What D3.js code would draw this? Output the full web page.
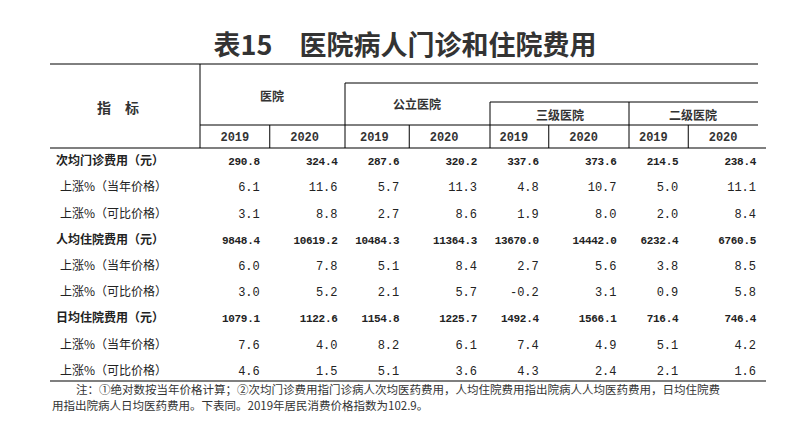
<!DOCTYPE html>
<html><head><meta charset="utf-8">
<script src="https://cdn.jsdelivr.net/npm/d3@7"></script>
<style>body{margin:0;background:#fff}</style>
</head><body>
<script>
// data
let rowLabels = ['次均门诊费用（元）','上涨%（当年价格）','上涨%（可比价格）',
  '人均住院费用（元）','上涨%（当年价格）','上涨%（可比价格）',
  '日均住院费用（元）','上涨%（当年价格）','上涨%（可比价格）'];
let years = ['2019','2020','2019','2020','2019','2020','2019','2020'];
let outpatient = ['290.8','324.4','287.6','320.2','337.6','373.6','214.5','238.4'];
let outCur = ['6.1','11.6','5.7','11.3','4.8','10.7','5.0','11.1'];
let outCmp = ['3.1','8.8','2.7','8.6','1.9','8.0','2.0','8.4'];
let inpatient = ['9848.4','10619.2','10484.3','11364.3','13670.0','14442.0','6232.4','6760.5'];
let inCur = ['6.0','7.8','5.1','8.4','2.7','5.6','3.8','8.5'];
let inCmp = ['3.0','5.2','2.1','5.7','-0.2','3.1','0.9','5.8'];
let daily = ['1079.1','1122.6','1154.8','1225.7','1492.4','1566.1','716.4','746.4'];
let dayCur = ['7.6','4.0','8.2','6.1','7.4','4.9','5.1','4.2'];
let dayCmp = ['4.6','1.5','5.1','3.6','4.3','2.4','2.1','1.6'];
let rows = [outpatient,outCur,outCmp,inpatient,inCur,inCmp,daily,dayCur,dayCmp];

let width = 802, height = 426;
let cjk = '"Noto Sans CJK SC", sans-serif', mono = '"Liberation Mono", monospace';
let svg = d3.select('body').append('svg').attr('width',width).attr('height',height);

let x = d3.scaleLinear().domain([0,8]).range([200,758]);
let y = d3.scaleBand().domain(d3.range(9)).range([148,384]);

svg.append('text').attr('x',405).attr('y',55).attr('text-anchor','middle')
  .style('font-family',cjk).style('font-weight','bold').style('font-size','27px').attr('fill','#333')
  .text('表15　医院病人门诊和住院费用');

let line = (x1,y1,x2,y2,w) => svg.append('line').attr('x1',x1).attr('y1',y1).attr('x2',x2).attr('y2',y2)
  .attr('stroke','#000').attr('stroke-width',w||1);
line(50,64,758,64); line(345,83,758,83); line(490,102,758,102); line(200,125,758,125);
line(50,148,766,148,1.2); line(50,381,766,381,1.2);
line(200,64,200,148); line(345,83,345,148); line(490,102,490,148); line(629,102,629,148);
[1,3,5,7].forEach(i => line(x(i),125,x(i),148));

let hdr = (t,cx,cy,sz) => svg.append('text').attr('x',cx).attr('y',cy).attr('text-anchor','middle')
  .style('font-family',cjk).style('font-weight','bold').style('font-size',(sz||12)+'px').attr('fill','#333').text(t);
hdr('指　标',118,113,14); hdr('医院',272,101); hdr('公立医院',417,109); hdr('三级医院',560,120); hdr('二级医院',693,120);

years.forEach((yr,i) => svg.append('text').attr('x',(x(i)+x(i+1))/2).attr('y',141).attr('text-anchor','middle')
  .style('font-family',mono).style('font-weight','bold').style('font-size','12px').attr('fill','#333').text(yr));

rows.forEach((r,ri) => {
  let bold = ri%3==0, cy = y(ri)+y.bandwidth()/2+4;
  svg.append('text').attr('x',bold?56:60).attr('y',cy).style('font-family',cjk)
    .style('font-weight',bold?'bold':'normal').style('font-size','12px').attr('fill','#222').text(rowLabels[ri]);
  r.forEach((v,i) => svg.append('text').attr('x',x(i+1)-(i%2==0?10:2)).attr('y',cy).attr('text-anchor','end')
    .style('font-family',mono).style('font-weight',bold?'bold':'normal').style('font-size',bold?'11px':'12px')
    .style('letter-spacing',bold?'-0.3px':'0').attr('fill','#222').text(v));
});

svg.append('text').attr('x',76).attr('y',394).style('font-family',cjk).style('font-size','11.5px').attr('fill','#333')
  .text('注：①绝对数按当年价格计算；②次均门诊费用指门诊病人次均医药费用，人均住院费用指出院病人人均医药费用，日均住院费');
svg.append('text').attr('x',52).attr('y',410).style('font-family',cjk).style('font-size','11.5px').attr('fill','#333')
  .text('用指出院病人日均医药费用。下表同。2019年居民消费价格指数为102.9。');
</script>
</body></html>
